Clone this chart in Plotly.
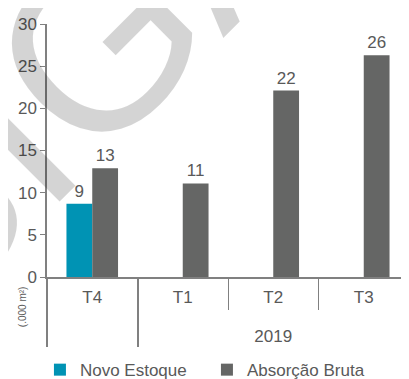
import plotly.graph_objects as go

years = ["", "2019", "2019", "2019"]
quarters = ["T4<br> ", "T1<br> ", "T2<br> ", "T3<br> "]
novo_estoque = [8.7, None, None, None]
absorcao_bruta = [12.9, 11.1, 22.1, 26.3]
novo_labels = ["9", "", "", ""]
absorcao_labels = ["13", "11", "22", "26"]

TEXT = "#595959"
AXIS = "#808080"
FONT = "Liberation Sans, Arial, sans-serif"

fig = go.Figure()

fig.add_trace(go.Bar(
    x=[years, quarters],
    y=novo_estoque,
    name="Novo Estoque",
    marker_color="#0093B4",
    marker_line_width=0,
    text=novo_labels,
    textposition="outside",
    cliponaxis=False,
))

fig.add_trace(go.Bar(
    x=[years, quarters],
    y=absorcao_bruta,
    name="Absorção Bruta",
    marker_color="#656665",
    marker_line_width=0,
    text=absorcao_labels,
    textposition="outside",
    cliponaxis=False,
))

# watermark (translucent so the tick labels still show through)
fig.add_annotation(
    text="SIGA", xref="paper", yref="paper", x=0.077, y=0.822,
    xanchor="center", yanchor="middle",
    showarrow=False, textangle=-45,
    font=dict(family=FONT, size=240, color="rgba(0,0,0,0.17)"),
)

fig.add_annotation(
    text="(.000 m²)", xref="paper", yref="paper", x=-0.069, y=-0.119,
    xanchor="center", yanchor="middle",
    showarrow=False, textangle=-90,
    font=dict(family=FONT, size=10, color=TEXT),
)

fig.update_traces(textfont=dict(family=FONT, size=17, color=TEXT))

# page body has an 8px margin, so the figure is drawn 8px smaller
fig.update_layout(
    width=401,
    height=371,
    margin=dict(l=39, r=0, t=16, b=102, autoexpand=False),
    paper_bgcolor="white",
    plot_bgcolor="white",
    barmode="group",
    bargap=0.43,
    bargroupgap=0,
    font=dict(family=FONT, size=17, color=TEXT),
    showlegend=True,
    legend=dict(
        orientation="h", x=-0.0195, xanchor="left", y=-0.368, yanchor="middle",
        font=dict(size=17, color=TEXT), itemwidth=30, entrywidth=122,
        traceorder="normal",
    ),
    xaxis=dict(
        type="multicategory",
        showline=True, linecolor=AXIS, linewidth=1.5,
        ticks="outside", tickson="boundaries", ticklen=31, tickcolor=AXIS,
        ticklabelstandoff=4,
        showdividers=True, dividercolor=AXIS, dividerwidth=1.5,
        tickfont=dict(size=17, color=TEXT),
        showgrid=False,
    ),
    yaxis=dict(
        range=[0, 30], dtick=5,
        showline=True, linecolor=AXIS, linewidth=1.5,
        ticks="outside", ticklen=5, tickcolor=AXIS,
        showgrid=False, zeroline=False,
        tickfont=dict(size=17, color=TEXT),
    ),
)

fig.write_html("out.html")
